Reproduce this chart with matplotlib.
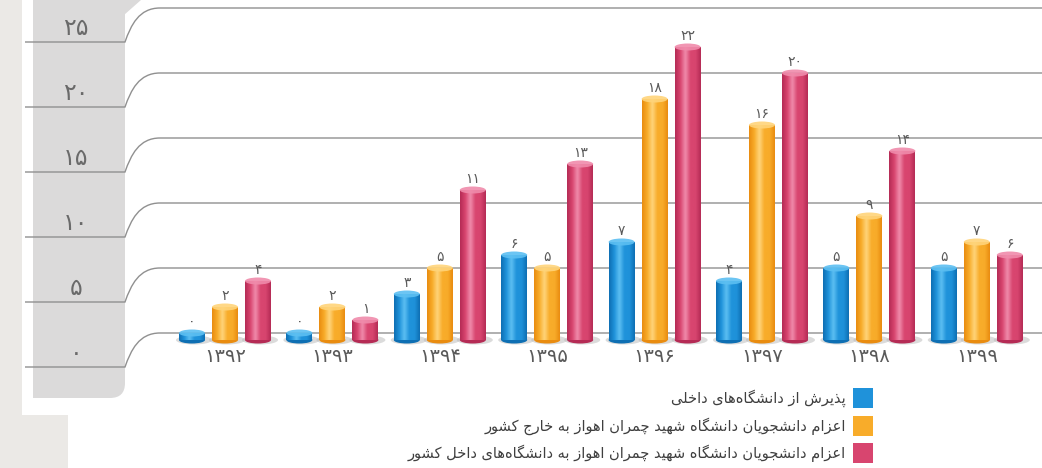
import numpy as np
import matplotlib
matplotlib.use("Agg")
import matplotlib.pyplot as plt
from matplotlib.patches import Ellipse, Rectangle, Polygon, PathPatch, FancyBboxPatch
from matplotlib.path import Path
from matplotlib.colors import LinearSegmentedColormap

plt.rcParams['font.family'] = ['DejaVu Sans']

# ---------------- data ----------------
years = [1392, 1393, 1394, 1395, 1396, 1397, 1398, 1399]
admit_domestic = [0, 0, 3, 6, 7, 4, 5, 5]
sent_abroad = [2, 2, 5, 5, 18, 16, 9, 7]
sent_domestic = [4, 1, 11, 13, 22, 20, 14, 6]
y_ticks = [0, 5, 10, 15, 20, 25]
legend_labels = [
    "پذیرش از دانشگاه\u200cهای داخلی",
    "اعزام دانشجویان دانشگاه شهید چمران اهواز به خارج کشور",
    "اعزام دانشجویان دانشگاه شهید چمران اهواز به دانشگاه\u200cهای داخل کشور",
]
series_colors = [
    ("#0e6fb3", "#1f92da", "#5cbff2"),   # dark, base, light
    ("#e98c10", "#f8ac2a", "#ffd47a"),
    ("#b52b55", "#d8456f", "#f08bab"),
]

# ---------------- Persian helpers ----------------
FA_DIGITS = "۰۱۲۳۴۵۶۷۸۹"


def fa(n):
    return "".join(FA_DIGITS[int(c)] for c in str(n))


FORMS = {
    '\u0627': ('\uFE8D', '\uFE8E', None, None),
    '\u0622': ('\uFE81', '\uFE82', None, None),
    '\u0628': ('\uFE8F', '\uFE90', '\uFE91', '\uFE92'),
    '\u067E': ('\uFB56', '\uFB57', '\uFB58', '\uFB59'),
    '\u062A': ('\uFE95', '\uFE96', '\uFE97', '\uFE98'),
    '\u062B': ('\uFE99', '\uFE9A', '\uFE9B', '\uFE9C'),
    '\u062C': ('\uFE9D', '\uFE9E', '\uFE9F', '\uFEA0'),
    '\u0686': ('\uFB7A', '\uFB7B', '\uFB7C', '\uFB7D'),
    '\u062D': ('\uFEA1', '\uFEA2', '\uFEA3', '\uFEA4'),
    '\u062E': ('\uFEA5', '\uFEA6', '\uFEA7', '\uFEA8'),
    '\u062F': ('\uFEA9', '\uFEAA', None, None),
    '\u0630': ('\uFEAB', '\uFEAC', None, None),
    '\u0631': ('\uFEAD', '\uFEAE', None, None),
    '\u0632': ('\uFEAF', '\uFEB0', None, None),
    '\u0698': ('\uFB8A', '\uFB8B', None, None),
    '\u0633': ('\uFEB1', '\uFEB2', '\uFEB3', '\uFEB4'),
    '\u0634': ('\uFEB5', '\uFEB6', '\uFEB7', '\uFEB8'),
    '\u0635': ('\uFEB9', '\uFEBA', '\uFEBB', '\uFEBC'),
    '\u0636': ('\uFEBD', '\uFEBE', '\uFEBF', '\uFEC0'),
    '\u0637': ('\uFEC1', '\uFEC2', '\uFEC3', '\uFEC4'),
    '\u0638': ('\uFEC5', '\uFEC6', '\uFEC7', '\uFEC8'),
    '\u0639': ('\uFEC9', '\uFECA', '\uFECB', '\uFECC'),
    '\u063A': ('\uFECD', '\uFECE', '\uFECF', '\uFED0'),
    '\u0641': ('\uFED1', '\uFED2', '\uFED3', '\uFED4'),
    '\u0642': ('\uFED5', '\uFED6', '\uFED7', '\uFED8'),
    '\u06A9': ('\uFB8E', '\uFB8F', '\uFB90', '\uFB91'),
    '\u06AF': ('\uFB92', '\uFB93', '\uFB94', '\uFB95'),
    '\u0644': ('\uFEDD', '\uFEDE', '\uFEDF', '\uFEE0'),
    '\u0645': ('\uFEE1', '\uFEE2', '\uFEE3', '\uFEE4'),
    '\u0646': ('\uFEE5', '\uFEE6', '\uFEE7', '\uFEE8'),
    '\u0648': ('\uFEED', '\uFEEE', None, None),
    '\u0647': ('\uFEE9', '\uFEEA', '\uFEEB', '\uFEEC'),
    '\u06CC': ('\uFBFC', '\uFBFD', '\uFBFE', '\uFBFF'),
}


def shape(text):
    chars = list(text)
    out = []
    n = len(chars)
    for i, ch in enumerate(chars):
        if ch == '\u200c':
            continue
        if ch not in FORMS:
            out.append(ch)
            continue
        f = FORMS[ch]
        prev_j = i > 0 and chars[i - 1] in FORMS and FORMS[chars[i - 1]][2] is not None
        next_j = i + 1 < n and chars[i + 1] in FORMS and f[2] is not None
        if prev_j and next_j:
            out.append(f[3])
        elif prev_j:
            out.append(f[1])
        elif next_j:
            out.append(f[2])
        else:
            out.append(f[0])
    return "".join(reversed(out))


# ---------------- figure ----------------
W_PX, H_PX = 1042, 468
fig = plt.figure(figsize=(W_PX / 100, H_PX / 100), dpi=100)
fig.patch.set_facecolor("white")

deco = fig.add_axes([0, 0, 1, 1])
deco.set_xlim(0, W_PX)
deco.set_ylim(H_PX, 0)
deco.axis('off')

ax = fig.add_axes([0, 0, 1, 1])
ax.patch.set_alpha(0)
ax.axis('off')
PX_PER_UNIT = 13.0
ZERO_PX = 333.0
YLIM = (-(H_PX - ZERO_PX) / PX_PER_UNIT, ZERO_PX / PX_PER_UNIT)
ax.set_xlim(0, W_PX)
ax.set_ylim(*YLIM)


def vpx(v):
    """pixel row (from top) of value v through the axes' scale"""
    return H_PX - ax.transData.transform((0, v))[1]


# background pieces
deco.add_patch(Rectangle((0, 0), 22, 415, color="#ebe9e6", lw=0, zorder=0))
deco.add_patch(Rectangle((0, 415), 68, 60, color="#ebe9e6", lw=0, zorder=0))
panel = FancyBboxPatch((33, -40), 92, 438, boxstyle="round,pad=0,rounding_size=15",
                       fc="#dbdada", ec="none", zorder=0.5)
deco.add_patch(panel)
deco.add_patch(Rectangle((33, -40), 30, 438, fc="#dbdada", ec="none", zorder=0.5))
deco.add_patch(Polygon([(124, 0), (141, 0), (124, 15)], closed=True, fc="#dbdada", ec="none", zorder=0.5))

# gridlines with step
STEP = 34
for t in y_ticks:
    yr = vpx(t)
    yl = yr + STEP
    verts = [(25, yl), (125, yl), (131, yl - 0.5 * STEP), (139, yr), (160, yr), (W_PX, yr)]
    codes = [Path.MOVETO, Path.LINETO, Path.CURVE4, Path.CURVE4, Path.CURVE4, Path.LINETO]
    deco.add_patch(PathPatch(Path(verts, codes), fc="none", ec="#909090", lw=1.0, zorder=1))
    deco.text(76, yr + 20, fa(t), ha="center", va="center", fontsize=17, color="#6a6a6a", zorder=2)

# bars
GROUP0, GROUP_STEP = 225.0, 107.4
BAR_OFF = [-33, 0, 33]
BW = 26
CAP_H = 7 / PX_PER_UNIT
BASE = -7 / PX_PER_UNIT
grad = np.linspace(0, 1, 64)[None, :]
series = [admit_domestic, sent_abroad, sent_domestic]

for s, vals in enumerate(series):
    dark, base_c, light = series_colors[s]
    cmap = LinearSegmentedColormap.from_list(
        f"cyl{s}", [dark, base_c, light, base_c, base_c, dark], N=256)
    for i, v in enumerate(vals):
        x = GROUP0 + GROUP_STEP * i + BAR_OFF[s]
        ax.add_patch(Ellipse((x + 2, BASE), BW + 10, 9 / PX_PER_UNIT, fc="#b8b8b8",
                             ec="none", alpha=0.5, zorder=1))
        ax.add_patch(Ellipse((x, BASE), BW, CAP_H, fc=dark, ec="none", zorder=2))
        body = ax.bar(x, v - BASE, bottom=BASE, width=BW, color=base_c, lw=0, zorder=3)[0]
        im = ax.imshow(grad, cmap=cmap, extent=(x - BW / 2, x + BW / 2, BASE, v),
                       aspect="auto", zorder=4, interpolation="bicubic")
        im.set_clip_path(body)
        ax.add_patch(Ellipse((x, v), BW, CAP_H, fc=light, ec="none", alpha=0.9, zorder=5))
        ax.text(x, v + 0.85, fa(v), ha="center", va="center", fontsize=10,
                color="#5a5a5a", zorder=6)

for i, yv in enumerate(years):
    ax.text(GROUP0 + GROUP_STEP * i, YLIM[0] + (H_PX - 357) / PX_PER_UNIT, fa(yv),
            ha="center", va="center", fontsize=14, color="#5a5a5a")

ax.set_xlim(0, W_PX)
ax.set_ylim(*YLIM)

# legend (right-to-left: swatch on the right)
rows = [398, 426, 453]
for k, lab in enumerate(legend_labels):
    dark, base_c, light = series_colors[k]
    deco.add_patch(Rectangle((853, rows[k] - 10), 20, 20, fc=base_c, ec="none", zorder=3))
    deco.text(846, rows[k], shape(lab), ha="right", va="center", fontsize=10.5,
              color="#3f3f3f", zorder=3)

fig.savefig("out.png", dpi=100)
